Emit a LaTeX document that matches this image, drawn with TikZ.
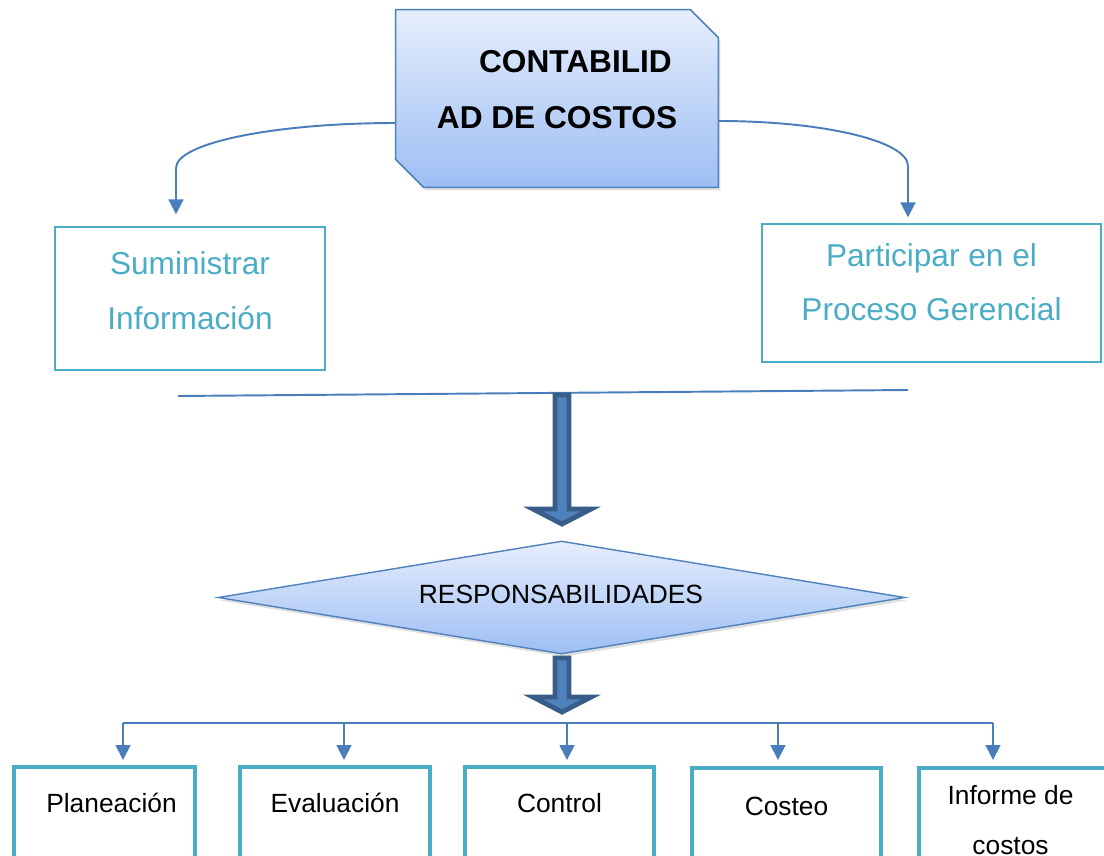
\documentclass[tikz,border=0pt]{standalone}
\usepackage{fontspec}
\setmainfont{Liberation Sans}
\usetikzlibrary{arrows.meta, calc, shapes.geometric, shadows}

\definecolor{lineblue}{HTML}{4A7EBB}
\definecolor{darkblue}{HTML}{385D8A}
\definecolor{midblue}{HTML}{4F81BD}
\definecolor{boxteal}{HTML}{4BACC6}
\definecolor{paleblue}{HTML}{E6EEFC}
\definecolor{softblue}{HTML}{9DBEF4}

\begin{document}
\begin{tikzpicture}[x=0.02cm,y=-0.02cm,
>={Triangle[width=8.5pt,length=8.5pt]},
link/.style={lineblue,line width=1.1pt},
title/.style={minimum width=6.44cm,minimum height=3.54cm,inner sep=0pt},
titlebox/.style={draw=midblue,line width=0.9pt,top color=paleblue,bottom color=softblue,
  drop shadow={opacity=0.25,shadow xshift=0.04cm,shadow yshift=-0.06cm}},
goal/.style={draw=boxteal,line width=0.8pt},
goaltext/.style={text=boxteal,align=center,font={\fontsize{18}{31}\selectfont}},
resp/.style={diamond,draw=midblue,line width=0.8pt,top color=paleblue,bottom color=softblue,
  minimum width=13.74cm,minimum height=2.26cm,inner sep=0pt,
  drop shadow={opacity=0.25,shadow xshift=0.04cm,shadow yshift=-0.06cm}},
blockarrow/.style={fill=midblue,draw=darkblue,line width=2.8pt},
outbox/.style={draw=boxteal,line width=2.3pt,minimum height=2.6cm,anchor=north},
outtext/.style={font={\fontsize{15}{28}\selectfont},align=center}]

  \useasboundingbox (0,0) rectangle (1104,855);
  \clip (0,0) rectangle (1104,855);

  % main box
  \node[title] (title) at (557,98.5) {};
  \filldraw [titlebox] (title.north west) -- ($(title.north east)+(-28,0)$)
    -- ($(title.north east)+(0,28)$) -- (title.south east)
    -- ($(title.south west)+(28,0)$) -- ($(title.south west)+(0,-28)$) -- cycle;
  \node[font={\fontsize{18}{32}\selectfont\bfseries},align=center] (titleTxt) at (557,90)
    {\hspace*{21pt}CONTABILID\\AD DE COSTOS};

  % the two goals
  \node[goal,minimum width=5.4cm,minimum height=2.86cm] (sum) at (190,298.5) {};
  \node[goal,minimum width=6.78cm,minimum height=2.76cm] (part) at (931.5,293) {};
  \node[goaltext] (sumTxt)  at ($(sum.center)+(0,-8)$)   {Suministrar\\Información};
  \node[goaltext] (partTxt) at ($(part.center)+(0,-11)$) {Participar en el\\Proceso Gerencial};

  \coordinate (sumIn)  at ($(sum.north)+(-14,-12)$);
  \coordinate (partIn) at ($(part.north)+(-23.5,-6)$);
  \draw [link,->] ($(title.west)+(0,24.5)$) .. controls (274,123) and (176,143) .. (176,168) -- (sumIn);
  \draw [link,->] ($(title.east)+(0,22.5)$) .. controls (823,121) and (908,141) .. (908,166) -- (partIn);

  % dividing line
  \coordinate (lineL) at (178,396);
  \coordinate (lineR) at (908,390);
  \draw [link] (lineL) -- (lineR);

  % responsibilities
  \node[resp] (resp) at (561.5,597.5) {};
  \node[font={\fontsize{15}{18}\selectfont}] (respTxt) at (561,594) {RESPONSABILIDADES};

  \filldraw [blockarrow] (555,395) -- (569,395) -- (569,509) -- (591,509) -- (562,524)
    -- (533,509) -- (555,509) -- cycle;
  \filldraw [blockarrow] (555,658) -- (569,658) -- (569,697) -- (591,697) -- (562,712)
    -- (533,697) -- (555,697) -- cycle;

  % the five tasks
  \node[outbox,minimum width=3.62cm] (plan) at (104.5,765) {};
  \node[outbox,minimum width=3.80cm] (eval) at (335,765) {};
  \node[outbox,minimum width=3.78cm] (ctrl) at (559.5,765) {};
  \node[outbox,minimum width=3.78cm] (cost) at (786.5,766) {};
  \node[outbox,minimum width=3.78cm] (info) at (1013.5,766) {};

  \node[outtext] (planTxt) at ($(plan.north)+(7,38)$)  {Planeación};
  \node[outtext] (evalTxt) at ($(eval.north)+(0,38)$)  {Evaluación};
  \node[outtext] (ctrlTxt) at ($(ctrl.north)+(0,38)$)  {Control};
  \node[outtext] (costTxt) at ($(cost.north)+(0,40)$)  {Costeo};
  \node[outtext] (infoTxt) at ($(info.north)+(-3,54)$) {Informe de\\costos};

  \coordinate (busL) at (123,723);
  \coordinate (busR) at (993,723);
  \draw [link,line width=1pt] (busL) -- (busR);

  \coordinate (planIn) at ($(plan.north)+(18.5,-5)$);
  \coordinate (evalIn) at ($(eval.north)+(9,-5)$);
  \coordinate (ctrlIn) at ($(ctrl.north)+(7.5,-5)$);
  \coordinate (costIn) at ($(cost.north)+(-8.5,-6)$);
  \coordinate (infoIn) at ($(info.north)+(-20.5,-6)$);
  \foreach \t in {planIn,evalIn,ctrlIn,costIn,infoIn}
    \draw [link,line width=1pt,->] (\t |- busL) -- (\t);
\end{tikzpicture}
\end{document}
